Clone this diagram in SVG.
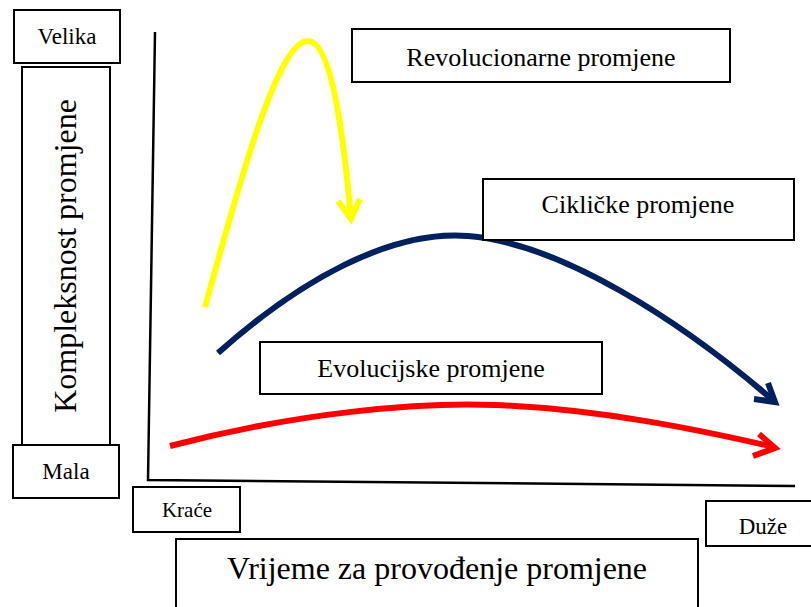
<svg xmlns="http://www.w3.org/2000/svg" width="811" height="607" viewBox="0 0 811 607">
<style>
.box{fill:#fff;stroke:#000;stroke-width:2}
.t{font-family:"Liberation Serif","Times New Roman",serif;fill:#000;text-anchor:middle}
.axis{stroke:#000;stroke-width:2.5;fill:none}
.cv{fill:none;stroke-width:6;stroke-linecap:butt;stroke-linejoin:miter}
</style>
<rect width="811" height="607" fill="#fff"/>
<g id="connectors">
<path class="axis" d="M155,32 L148,480 L795,486"/>
<path class="cv" stroke="#ffff00" d="M205,307 C240,180 278,41 308,41 C332,41 344,140 351,219"/>
<path class="cv" stroke="#ffff00" d="M338,201 L351,219 L360,199"/>
<path class="cv" stroke="#002060" d="M218,353 C300,280 390,230 468,236 C560,243 680,320 774,401"/>
<path class="cv" stroke="#002060" d="M754,399 L775,402 L768,383"/>
<path class="cv" stroke="#ff0000" d="M170,446 C300,412 420,402 495,405 C600,409 700,430 774,447"/>
<path class="cv" stroke="#ff0000" d="M759,434 L775,448 L753,456"/>
</g>
<g id="velika"><rect class="box" x="14" y="10" width="106" height="53"/><text class="t" x="67" y="44" font-size="23">Velika</text></g>
<g id="kompleksnost"><rect class="box" x="22" y="67" width="88" height="378"/><text class="t" transform="translate(76,256) rotate(-90)" font-size="32">Kompleksnost promjene</text></g>
<g id="mala"><rect class="box" x="13" y="445" width="106" height="53"/><text class="t" x="66" y="479" font-size="23">Mala</text></g>
<g id="krace"><rect class="box" x="133" y="487" width="107" height="45"/><text class="t" x="187" y="517" font-size="21">Kraće</text></g>
<g id="duze"><rect class="box" x="706" y="501" width="110" height="45"/><text class="t" x="763" y="534" font-size="23">Duže</text></g>
<g id="vrijeme"><rect class="box" x="176" y="539" width="522" height="80"/><text class="t" x="437" y="579" font-size="32">Vrijeme za provođenje promjene</text></g>
<g id="revolucionarne"><rect class="box" x="352" y="29" width="378" height="53"/><text class="t" x="541" y="66" font-size="26">Revolucionarne promjene</text></g>
<g id="ciklicke"><rect class="box" x="483" y="179" width="311" height="61"/><text class="t" x="638" y="213" font-size="26">Cikličke promjene</text></g>
<g id="evolucijske"><rect class="box" x="260" y="342" width="342" height="52"/><text class="t" x="431" y="377" font-size="26">Evolucijske promjene</text></g>
</svg>
